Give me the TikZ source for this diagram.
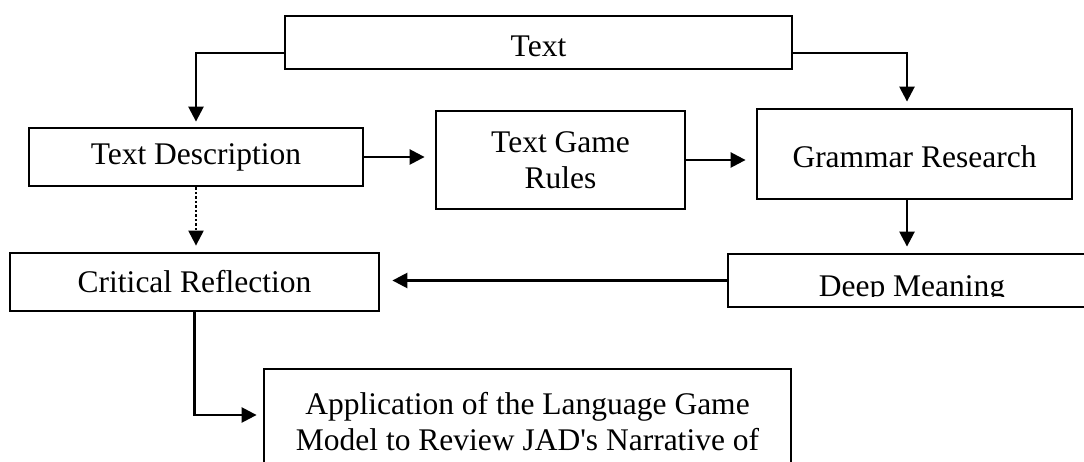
\documentclass[tikz,border=0pt]{standalone}
\usepackage{fontspec}
\newfontfamily\tnr{Liberation Serif}
\usetikzlibrary{arrows.meta,positioning}

\begin{document}
\begin{tikzpicture}[x=1pt, y=-1pt, line width=2.5pt, ->, >={Triangle[length=15pt,width=15pt]},
  every node/.style={font=\tnr\fontsize{31.5}{36.5}\selectfont, inner sep=0pt},
  box/.style={draw, rectangle, line width=2.8pt, align=center}]
\clip (0,0) rectangle (1084,462);
\node[box, minimum width=507, minimum height=53] (text) at (538.5,42.5) {\raisebox{-4pt}[\height][\depth]{Text}};
\node[box, minimum width=334, minimum height=58] (tdesc) at (196,157) {Text Description};
\node[box, minimum width=249, minimum height=98] (rules) at (560.5,160) {Text Game\\Rules};
\node[box, minimum width=315, minimum height=90] (gram) at (914.5,154) {\raisebox{-3pt}[\height][\depth]{Grammar Research}};
\node[box, minimum width=368, minimum height=53] (deep) at (912,280.5) {};
\begin{scope}
\clip (deep.north west) rectangle ([yshift=11.5pt]deep.south east);
\node[anchor=base] (deeptxt) at (912,296.5) {Deep Meaning};
\end{scope}
\node[box, minimum width=369, minimum height=58] (crit) at (194.5,282) {Critical Reflection};
\node[box, minimum width=527, minimum height=141] (app) at (527.5,439.5) {};
\node[anchor=north, align=center] (apptxt) at (527.5,391) {Application of the Language Game\\Model to Review JAD's Narrative of};
% connectors
\draw[shorten >=5pt] ([yshift=-10.5pt]text.west) -| (tdesc.north);
\draw[shorten >=6pt] ([yshift=-10.5pt]text.east) -| ([xshift=-7.5pt]gram.north);
\draw[shorten >=10pt] (tdesc.east) -- (tdesc.east -| rules.west);
\draw[shorten >=10pt] (rules.east) -- (rules.east -| gram.west);
\draw[shorten >=6pt] ([xshift=-7.5pt]gram.south) -- ([xshift=-7.5pt]gram.south |- deep.north);
\draw[shorten >=12pt] (deep.west) -- (deep.west -| crit.east);
\draw[line width=2.2pt, dash pattern=on 2.5pt off 2pt, shorten >=6pt] (tdesc.south) -- (tdesc.south |- crit.north);
\draw[shorten >=6pt] (crit.south) |- ([yshift=24.5pt]app.west);
\end{tikzpicture}
\end{document}
